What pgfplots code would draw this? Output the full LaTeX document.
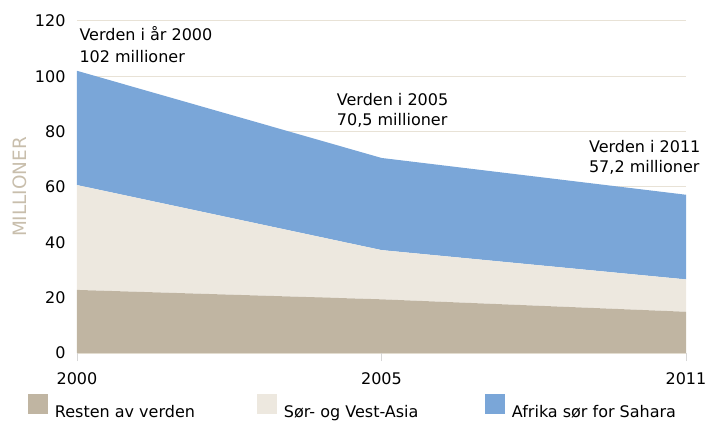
\documentclass[border=0pt]{standalone}
\usepackage{fontspec}
\setmainfont{DejaVu Sans}
\usepackage{pgfplots}
\pgfplotsset{compat=1.18}
\definecolor{restc}{RGB}{192,181,162}
\definecolor{svac}{RGB}{237,232,223}
\definecolor{ssac}{RGB}{122,166,216}
\definecolor{gridc}{RGB}{232,226,214}
\definecolor{ylabc}{RGB}{200,190,172}
\definecolor{tickc}{RGB}{215,215,215}
\begin{document}
\begin{tikzpicture}[font=\fontsize{16}{19}\selectfont]
\begin{axis}[
  at={(0pt,0pt)}, anchor=south west,
  scale only axis, width=609pt, height=332pt,
  clip=false,
  xmin=0, xmax=2, ymin=0, ymax=120,
  xtick={0,1,2}, xticklabels={2000,2005,2011},
  ytick={0,20,40,60,80,100,120},
  /pgf/number format/assume math mode=true,
  axis line style={draw=none},
  ymajorgrids, grid style={color=gridc, line width=1pt},
  ytick style={draw=none},
  xtick style={draw=tickc, line width=0.8pt},
  tick align=outside, major tick length=8pt,
  xtick pos=bottom, ytick pos=left,
  yticklabel style={xshift=0pt},
  xticklabel style={yshift=-8pt},
  ylabel={MILLIONER},
  ylabel style={at={(axis description cs:-0.0936,0.5)}, anchor=center, color=ylabc, font=\fontsize{18.4}{21}\selectfont},
  stack plots=y,
  legend columns=3,
  legend cell align=left,
  legend style={draw=none, fill=none, inner sep=0pt, outer sep=0pt, row sep=0pt,
    at={(-0.0805,-0.1235)}, anchor=north west,
    nodes={inner sep=0pt},
    /tikz/every odd column/.append style={column sep=7pt}},
  legend image code/.code={\fill[#1] (0pt,-2pt) rectangle (20pt,18pt);},
]
\addplot[fill=restc, draw=none] coordinates {(0,22.8) (1,19.4) (2,14.9)} \closedcycle;
\addlegendentry{\makebox[202pt][l]{Resten av verden}}
\addplot[fill=svac, draw=none] coordinates {(0,37.9) (1,17.8) (2,11.7)} \closedcycle;
\addlegendentry{\makebox[201pt][l]{Sør- og Vest-Asia}}
\addplot[fill=ssac, draw=none] coordinates {(0,41.3) (1,33.3) (2,30.6)} \closedcycle;
\addlegendentry{Afrika sør for Sahara}
\node[anchor=base west, inner sep=0pt] at (axis cs:0.0076,112.9) {Verden i år 2000};
\node[anchor=base west, inner sep=0pt] at (axis cs:0.0076,104.9) {102 millioner};
\node[anchor=base west, inner sep=0pt] at (axis cs:0.853,89.6) {Verden i 2005};
\node[anchor=base west, inner sep=0pt] at (axis cs:0.853,82.1) {70,5 millioner};
\node[anchor=base west, inner sep=0pt] at (axis cs:1.681,72.5) {Verden i 2011};
\node[anchor=base west, inner sep=0pt] at (axis cs:1.681,65.3) {57,2 millioner};
\end{axis}
\pgfresetboundingbox
\path (-77pt,-70pt) rectangle (630pt,353pt);
\end{tikzpicture}
\end{document}
